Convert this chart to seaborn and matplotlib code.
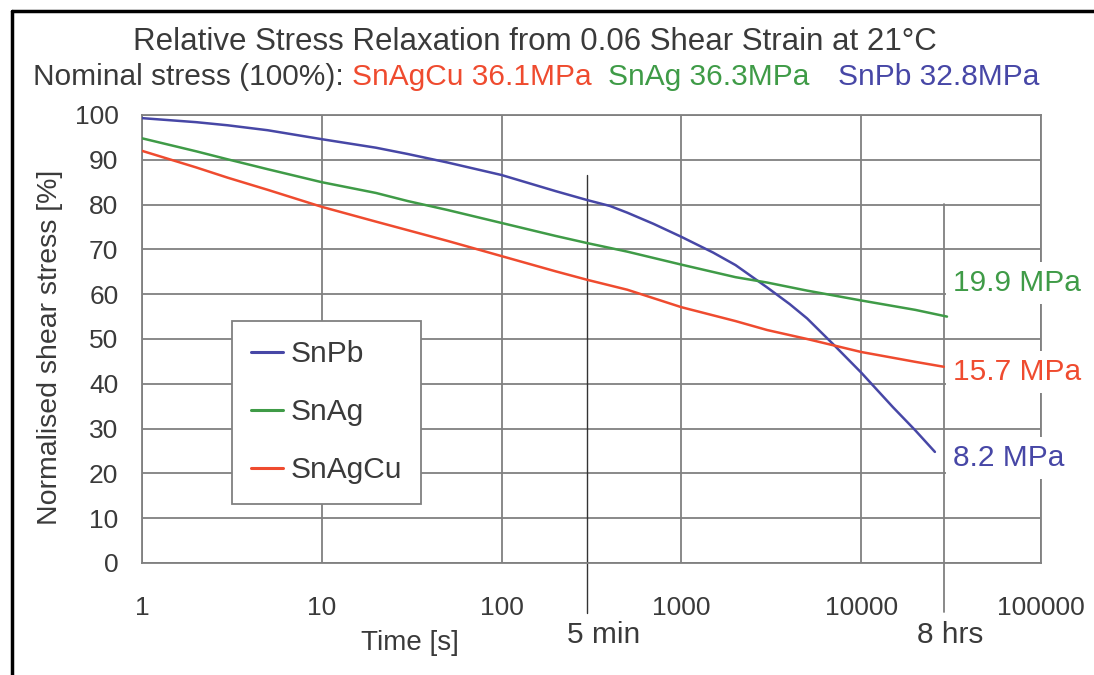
import matplotlib
matplotlib.use('Agg')
import matplotlib.pyplot as plt
import matplotlib.ticker as mticker
from matplotlib.lines import Line2D
import pandas as pd
import seaborn as sns

# Time [s] and normalised shear stress [%]
time_snpb = [1, 2, 3, 5, 10, 20, 30, 50, 100, 200, 300, 400, 500, 700, 1000,
             1500, 2000, 3000, 4000, 5000, 7000, 10000, 15000, 20000, 25700]
stress_snpb = [99.3, 98.4, 97.7, 96.6, 94.6, 92.7, 91.3, 89.4, 86.6, 83.0, 81.0, 79.7, 78.2, 75.7, 72.8,
               69.3, 66.5, 61.5, 57.8, 54.6, 48.8, 42.5, 34.8, 29.6, 24.8]

time_snag = [1, 2, 3, 5, 10, 20, 30, 50, 100, 200, 300, 500, 1000,
             2000, 3000, 5000, 10000, 20000, 30000]
stress_snag = [94.8, 91.9, 90.1, 87.9, 85.0, 82.6, 80.8, 78.8, 75.9, 73.0, 71.4, 69.5, 66.6,
               63.8, 62.6, 60.8, 58.6, 56.5, 55.0]

time_snagcu = [1, 2, 3, 5, 10, 20, 30, 50, 100, 200, 300, 500, 1000,
               2000, 3000, 5000, 10000, 20000, 28800]
stress_snagcu = [92.0, 88.3, 86.0, 83.3, 79.5, 76.2, 74.3, 71.9, 68.5, 65.1, 63.2, 61.0, 57.1,
                 54.0, 52.0, 50.0, 47.1, 44.9, 43.8]

alloys = ['SnPb', 'SnAg', 'SnAgCu']
colors = {'SnPb': '#4747a6', 'SnAg': '#3f9b47', 'SnAgCu': '#ef4b2f'}
nominal = {'SnAgCu': 'SnAgCu 36.1MPa', 'SnAg': 'SnAg 36.3MPa', 'SnPb': 'SnPb 32.8MPa'}
end_labels = {'SnAg': '19.9 MPa', 'SnAgCu': '15.7 MPa', 'SnPb': '8.2 MPa'}

x_ticks = [1, 10, 100, 1000, 10000, 100000]
x_ticklabels = ['1', '10', '100', '1000', '10000', '100000']
y_ticks = list(range(0, 101, 10))
marker_times = {'5 min': 300, '8 hrs': 28800}

df = pd.concat([
    pd.DataFrame({'time': time_snpb, 'stress': stress_snpb, 'alloy': 'SnPb'}),
    pd.DataFrame({'time': time_snag, 'stress': stress_snag, 'alloy': 'SnAg'}),
    pd.DataFrame({'time': time_snagcu, 'stress': stress_snagcu, 'alloy': 'SnAgCu'}),
], ignore_index=True)

sns.set_style('white')
plt.rcParams['font.family'] = ['Liberation Sans', 'DejaVu Sans']
TXT = '#3a3a3a'
GRID = '#808080'
FS = 19    # tick labels
FL = 21.5  # other text

W, H = 1094, 675
fig = plt.figure(figsize=(W / 100, H / 100), dpi=100)


def px(x, y):
    """pixel position (from top-left) -> figure fraction"""
    return x / W, 1 - y / H


ax = fig.add_axes([142 / W, 1 - 563 / H, (1041 - 142) / W, (563 - 115) / H])
ax.set_xscale('log')

sns.lineplot(data=df, x='time', y='stress', hue='alloy', hue_order=alloys,
             palette=colors, estimator=None, sort=True, lw=1.8, legend=False, ax=ax,
             zorder=3)

ax.set_xlim(1, 100000)
ax.set_ylim(0, 100)
ax.xaxis.set_major_locator(mticker.FixedLocator(x_ticks))
ax.xaxis.set_major_formatter(mticker.FixedFormatter(x_ticklabels))
ax.xaxis.set_minor_locator(mticker.LogLocator(base=10, subs=range(2, 10)))
ax.xaxis.set_minor_formatter(mticker.NullFormatter())
ax.set_yticks(y_ticks)
ax.set_xlabel('')
ax.set_ylabel('')

ax.grid(which='major', color=GRID, lw=1.3)
ax.tick_params(which='major', length=0, labelsize=FS, labelcolor=TXT)
ax.tick_params(axis='x', which='major', pad=24)
ax.tick_params(axis='y', which='major', pad=17)
ax.tick_params(axis='x', which='minor', direction='in', length=5, width=1, color=GRID)
for s in ax.spines.values():
    s.set_color(GRID)
    s.set_linewidth(1.3)

# 5 min / 8 hrs reference lines running below the axis
ax.plot([marker_times['5 min']] * 2, [86.6, -11.2], color='#333333', lw=1.0,
        clip_on=False, zorder=2)
ax.plot([marker_times['8 hrs']] * 2, [80.1, -10.9], color=GRID, lw=1.3,
        clip_on=False, zorder=2)

# legend
handles = [Line2D([], [], color=colors[a], lw=2.2) for a in alloys]
leg = ax.legend(handles, alloys, loc='upper left', bbox_to_anchor=px(232, 321),
                bbox_transform=fig.transFigure, borderaxespad=0, fontsize=FL,
                handlelength=1.05, handletextpad=0.25, labelspacing=1.0,
                borderpad=0.65, fancybox=False, framealpha=1, edgecolor=GRID)
leg.get_frame().set_linewidth(1.3)
for t in leg.get_texts():
    t.set_color(TXT)

# titles
fig.text(*px(535, 42), 'Relative Stress Relaxation from 0.06 Shear Strain at 21°C',
         ha='center', va='center', fontsize=22.5, color=TXT)
fig.text(*px(33, 77), 'Nominal stress (100%):', ha='left', va='center', fontsize=FL, color=TXT)
for a, x in [('SnAgCu', 352), ('SnAg', 608), ('SnPb', 838)]:
    fig.text(*px(x, 77), nominal[a], ha='left', va='center', fontsize=FL, color=colors[a])

# axis labels
fig.text(*px(50, 347), 'Normalised shear stress [%]', rotation=90, ha='center', va='center',
         fontsize=20.5, color=TXT)
fig.text(*px(410, 643), 'Time [s]', ha='center', va='center', fontsize=20, color=TXT)
fig.text(*px(604, 635), '5 min', ha='center', va='center', fontsize=FL, color=TXT)
fig.text(*px(950, 635), '8 hrs', ha='center', va='center', fontsize=FL, color=TXT)

# end values with white boxes over the grid
for a, y in [('SnAg', 283), ('SnAgCu', 372), ('SnPb', 458)]:
    fig.text(*px(953, y), end_labels[a], ha='left', va='center', fontsize=FL,
             color=colors[a], zorder=5,
             bbox=dict(boxstyle='square,pad=0.25', fc='white', ec='none'))

# outer frame
fig.add_artist(Line2D([11.5 / W, 11.5 / W], [0, 1 - 11 / H], transform=fig.transFigure,
                      color='black', lw=2.5))
fig.add_artist(Line2D([11.5 / W, 1], [1 - 11 / H, 1 - 11 / H], transform=fig.transFigure,
                      color='black', lw=2.5))

fig.savefig('out.png', dpi=100)
